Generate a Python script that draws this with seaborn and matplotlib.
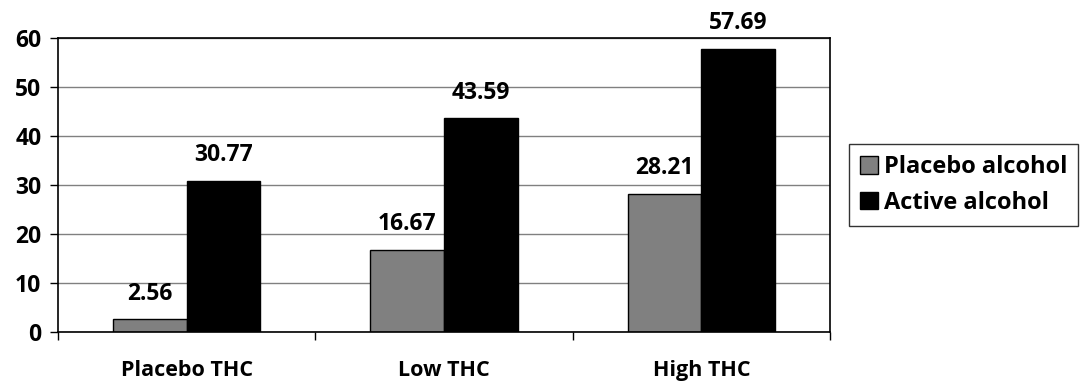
import numpy as np
import pandas as pd
import matplotlib
matplotlib.use("Agg")
import matplotlib.pyplot as plt
import seaborn as sns

### Data ###

thc_levels = ["Placebo THC", "Low THC", "High THC"]
alcohol_levels = ["Placebo alcohol", "Active alcohol"]
placebo_alcohol = [2.56, 16.67, 28.21]
active_alcohol = [30.77, 43.59, 57.69]

df = pd.DataFrame({
    "thc": thc_levels * 2,
    "alcohol": [alcohol_levels[0]] * 3 + [alcohol_levels[1]] * 3,
    "value": placebo_alcohol + active_alcohol,
})

### Plot ###

sns.set_style("white")
plt.rcParams["font.family"] = ["Open Sans", "DejaVu Sans"]
plt.rcParams["font.weight"] = "bold"
plt.rcParams["text.color"] = "black"
plt.rcParams["xtick.color"] = "black"
plt.rcParams["ytick.color"] = "black"

fig = plt.figure(figsize=(10.82, 3.90), dpi=100)
ax = fig.add_axes([0.0536, 0.1487, 0.7135, 0.7539])

sns.barplot(data=df, x="thc", y="value", hue="alcohol",
            order=thc_levels, hue_order=alcohol_levels,
            palette=["#808080", "#000000"], edgecolor="black",
            linewidth=1.0, width=0.572, saturation=1, ax=ax)

for container in ax.containers:
    ax.bar_label(container, fmt="%.2f", padding=10, fontsize=16.5,
                 fontweight="bold", color="black")

ax.set_ylim(0, 60)
ax.set_xlim(-0.5, 2.5)
ax.set_yticks(np.arange(0, 61, 10))
ax.yaxis.grid(True, color="#808080", linewidth=1.0)
ax.set_axisbelow(True)
for spine in ax.spines.values():
    spine.set_visible(True)
    spine.set_color("black")
    spine.set_linewidth(1.2)

# category labels centred, tick marks between groups
ax.set_xticks([0, 1, 2])
ax.set_xticklabels(thc_levels, fontsize=15.5, fontweight="bold")
ax.tick_params(axis="x", length=0, pad=20)
ax.set_xticks([-0.5, 0.5, 1.5, 2.5], minor=True)
ax.tick_params(axis="x", which="minor", length=6, width=1, color="black", direction="out", bottom=True)
ax.tick_params(axis="y", length=6, width=1, color="black", direction="out", left=True,
               labelsize=16.5, pad=6)
for lab in ax.get_yticklabels():
    lab.set_fontweight("bold")
ax.set_xlabel("")
ax.set_ylabel("")

leg = ax.legend(loc="center left", bbox_to_anchor=(1.025, 0.5), frameon=True,
                fancybox=False, edgecolor="black", fontsize=17,
                handlelength=0.75, handleheight=0.75, handletextpad=0.25,
                borderpad=0.45, labelspacing=0.5, borderaxespad=0)
leg.get_frame().set_linewidth(1.0)
for t in leg.get_texts():
    t.set_fontweight("bold")

fig.savefig("out.png", dpi=100)
